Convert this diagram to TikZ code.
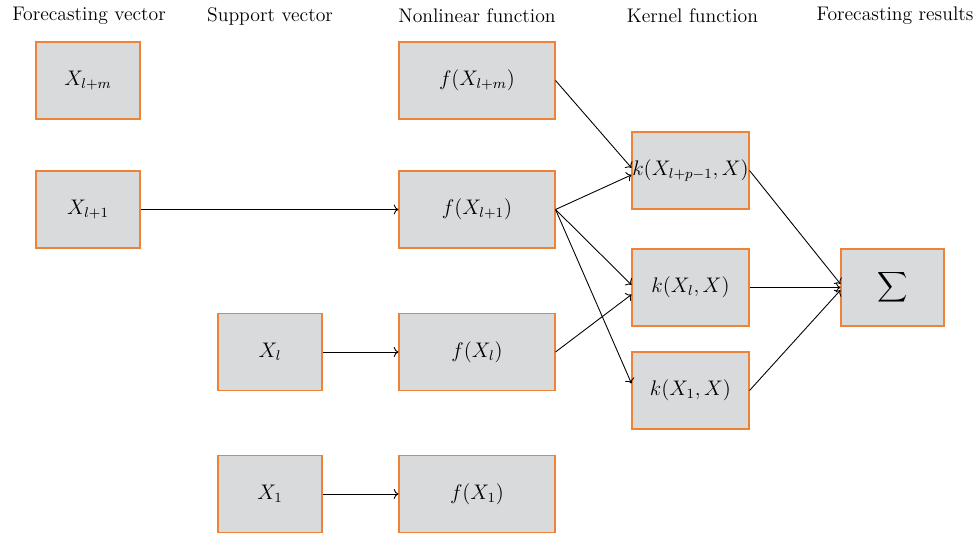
\documentclass[tikz,border=0pt]{standalone}
\usepackage{amsmath}
\usepackage{xcolor}
\usepackage{tikz}
\usetikzlibrary{arrows.meta}
\definecolor{boxorange}{RGB}{238,130,55}
\definecolor{boxgray}{RGB}{217,218,220}
\tikzset{
  >=To, % open arrow heads
}

\begin{document}
\begin{tikzpicture}[
	box/.style={draw=boxorange, line width=0.6pt, rectangle, fill=boxgray, minimum width=2.08cm, minimum height=1.54cm, inner sep=0pt, align=center, font=\large},
	title/.style={font=\fontsize{11.2}{13}\selectfont},
	arrow/.style={->, line width=0.5pt}
]
\useasboundingbox (0,0) rectangle (19.5,-10.74);

% The column titles
\node[title] (t1) at (1.78,-0.32) {Forecasting vector};
\node[title] (t2) at (5.40,-0.32) {Support vector};
\node[title] (t3) at (9.54,-0.32) {Nonlinear function};
\node[title] (t4) at (13.85,-0.32) {Kernel function};
\node[title] (t5) at (17.90,-0.32) {Forecasting results};

% The boxes
\node[box] (xlm) at (1.76,-1.61) {$X_{l+m}$};
\node[box] (xl1) at (1.76,-4.19) {$X_{l+1}$};

\node[box] (xl) at (5.40,-7.04) {$X_l$};
\node[box] (x1) at (5.40,-9.88) {$X_1$};

\node[box, minimum width=3.12cm] (flm) at (9.54,-1.61) {$f(X_{l+m})$};
\node[box, minimum width=3.12cm] (fl1) at (9.54,-4.19) {$f(X_{l+1})$};
\node[box, minimum width=3.12cm] (fl) at (9.54,-7.04) {$f(X_l)$};
\node[box, minimum width=3.12cm] (f1) at (9.54,-9.88) {$f(X_1)$};

\node[box, minimum width=2.34cm] (klp) at (13.81,-3.41) {$k(X_{l+p-1},X)$};
\node[box, minimum width=2.34cm] (kl) at (13.81,-5.75) {$k(X_l,X)$};
\node[box, minimum width=2.34cm] (k1) at (13.81,-7.81) {$k(X_1,X)$};

\node[box, minimum width=2.06cm] (sum) at (17.85,-5.75) {$\displaystyle\sum$};

% The connections
\draw[arrow] (xl1) -- (fl1);
\draw[arrow] (xl) -- (fl);
\draw[arrow] (x1) -- (f1);

\draw[arrow] (flm.east) -- ([yshift=1.5pt]klp.west);
\draw[arrow] (fl1.east) -- ([yshift=-2.5pt]klp.west);
\draw[arrow] (fl1.east) -- ([yshift=1.5pt]kl.west);
\draw[arrow] (fl1.east) -- ([yshift=4pt]k1.west);
\draw[arrow] (fl.east) -- ([yshift=-4pt]kl.west);

\draw[arrow] (klp.east) -- ([yshift=2pt]sum.west);
\draw[arrow] (kl.east) -- (sum.west);
\draw[arrow] (k1.east) -- ([yshift=-1.5pt]sum.west);

\end{tikzpicture}
\end{document}
